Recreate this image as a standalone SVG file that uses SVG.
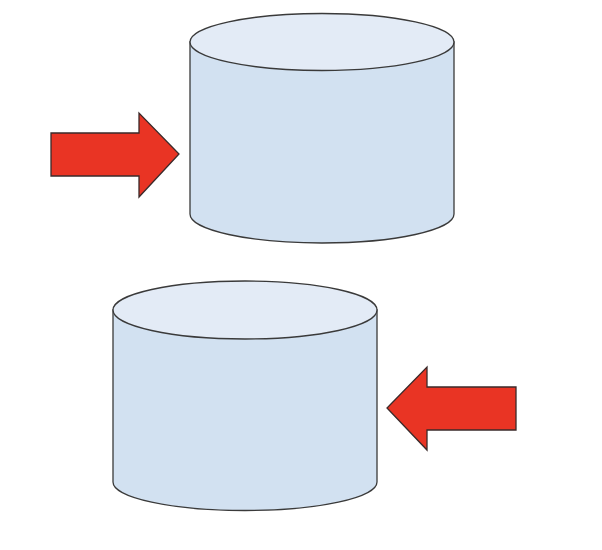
<svg xmlns="http://www.w3.org/2000/svg" width="602" height="550" viewBox="0 0 602 550">
<style>
.body{fill:#d2e1f1;stroke:#3a3a3a;stroke-width:1.3}
.top{fill:#e3ebf6;stroke:#3a3a3a;stroke-width:1.3}
.arrow{fill:#e93424;stroke:#3a2a2a;stroke-width:1.3;stroke-linejoin:miter}
</style>
<rect width="602" height="550" fill="#ffffff"/>
<g id="cylinder-top">
<path class="body" d="M190,42 L190,214 A132,29 0 0 0 454,214 L454,42 Z"/>
<ellipse class="top" cx="322" cy="42" rx="132" ry="28.5"/>
</g>
<g id="cylinder-bottom">
<path class="body" d="M113,310 L113,482 A132,28.5 0 0 0 377,482 L377,310 Z"/>
<ellipse class="top" cx="245" cy="310" rx="132" ry="29"/>
</g>
<g id="connectors">
<g id="arrow-right">
<polygon class="arrow" points="51,133 139,133 139,113 179,154 139,197 139,176 51,176"/>
</g>
<g id="arrow-left">
<polygon class="arrow" points="516,387 427,387 427,367 387,408 427,450 427,430 516,430"/>
</g>
</g>
</svg>
